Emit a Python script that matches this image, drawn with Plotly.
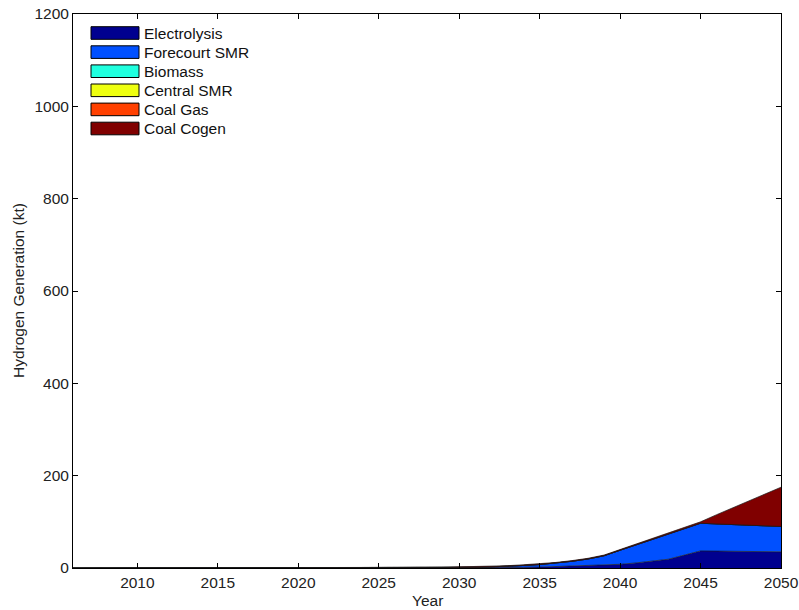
import plotly.graph_objects as go

# Hydrogen generation by pathway (kt), yearly 2006-2050
years = list(range(2006, 2051))
zeros_early = [0] * 20  # 2006-2025

electrolysis = zeros_early + [0, 0, 0, 0, 0, 0.2, 0.5, 1, 1.5, 2, 3, 4, 5, 6.5, 8,
                              11, 15, 19, 28, 37, 36.6, 36.2, 35.8, 35.4, 35]
forecourt_smr = zeros_early + [0, 0, 0, 0.3, 1, 1.3, 2, 2.5, 4, 5.5, 7.5, 10.5, 14.5, 20, 30.5,
                               39.5, 47.5, 55.5, 58.5, 60, 58.9, 57.8, 56.7, 55.6, 55]
biomass = [0] * 45
central_smr = [0] * 45
coal_gas = [0] * 45
coal_cogen = zeros_early + [0.5, 0.8, 1, 1.2, 1.5, 1.5, 1.5, 1.5, 1.5, 1.5, 1.5, 1.5, 1.5, 1.5, 1.5,
                            1.5, 1.5, 1.5, 1.5, 3, 20, 36, 53, 69, 85]

series_names = ["Electrolysis", "Forecourt SMR", "Biomass", "Central SMR", "Coal Gas", "Coal Cogen"]
series_values = [electrolysis, forecourt_smr, biomass, central_smr, coal_gas, coal_cogen]
series_colors = ["#00008F", "#0050FF", "#20FFDF", "#EFFF10", "#FF4000", "#800000"]

x_ticks = [2010, 2015, 2020, 2025, 2030, 2035, 2040, 2045, 2050]
y_ticks = [0, 200, 400, 600, 800, 1000, 1200]

FONT = "Liberation Sans, Arial, sans-serif"
FS = 15.5
W, H = 799, 610
L, R, T, B = 73, 18, 14, 42

fig = go.Figure()
for name, vals, col in zip(series_names, series_values, series_colors):
    fig.add_trace(go.Scatter(
        x=years, y=vals, name=name, mode="lines",
        stackgroup="one", fill="tonexty", fillcolor=col,
        line=dict(color="#1a1a1a", width=0.7),
        showlegend=False, hoverinfo="x+y+name",
    ))

# Legend drawn as patches with labels in the upper-left corner of the axes
pw = W - L - R
ph = H - T - B
shapes, annos = [], []
for i, (name, col) in enumerate(zip(series_names, series_colors)):
    yc = 33 + i * 19.1
    shapes.append(dict(
        type="rect", xref="paper", yref="paper",
        x0=(91 - L) / pw, x1=(139 - L) / pw,
        y0=(H - B - (yc + 6.3)) / ph, y1=(H - B - (yc - 6.3)) / ph,
        fillcolor=col, line=dict(color="black", width=1),
    ))
    annos.append(dict(
        xref="paper", yref="paper", x=(142 - L) / pw, y=(H - B - yc) / ph,
        text=name, showarrow=False, xanchor="left", yanchor="middle",
        font=dict(family=FONT, size=FS, color="#111"),
    ))

# Axis titles placed explicitly so the plot area keeps fixed margins
annos.append(dict(xref="paper", yref="paper", x=0.5, y=(H - B - 600) / ph, text="Year",
                  showarrow=False, xanchor="center", yanchor="middle",
                  font=dict(family=FONT, size=FS, color="#222")))
annos.append(dict(xref="paper", yref="paper", x=(18 - L) / pw, y=0.5,
                  text="Hydrogen Generation (kt)", textangle=-90,
                  showarrow=False, xanchor="center", yanchor="middle",
                  font=dict(family=FONT, size=FS, color="#222")))

axis_common = dict(
    showline=True, linecolor="black", linewidth=1, mirror="ticks",
    ticks="inside", ticklen=5, tickcolor="black", tickwidth=1,
    showgrid=False, zeroline=False, automargin=False,
    tickfont=dict(family=FONT, size=FS, color="#222"),
)

fig.update_layout(
    width=W, height=H,
    margin=dict(l=L, r=R, t=T, b=B, autoexpand=False),
    paper_bgcolor="white", plot_bgcolor="white",
    shapes=shapes, annotations=annos,
    xaxis=dict(range=[2006, 2050], tickvals=x_ticks, ticktext=[str(v) for v in x_ticks],
               **axis_common),
    yaxis=dict(range=[0, 1200], tickvals=y_ticks, **axis_common),
    showlegend=False,
)

fig.write_html("out.html")
